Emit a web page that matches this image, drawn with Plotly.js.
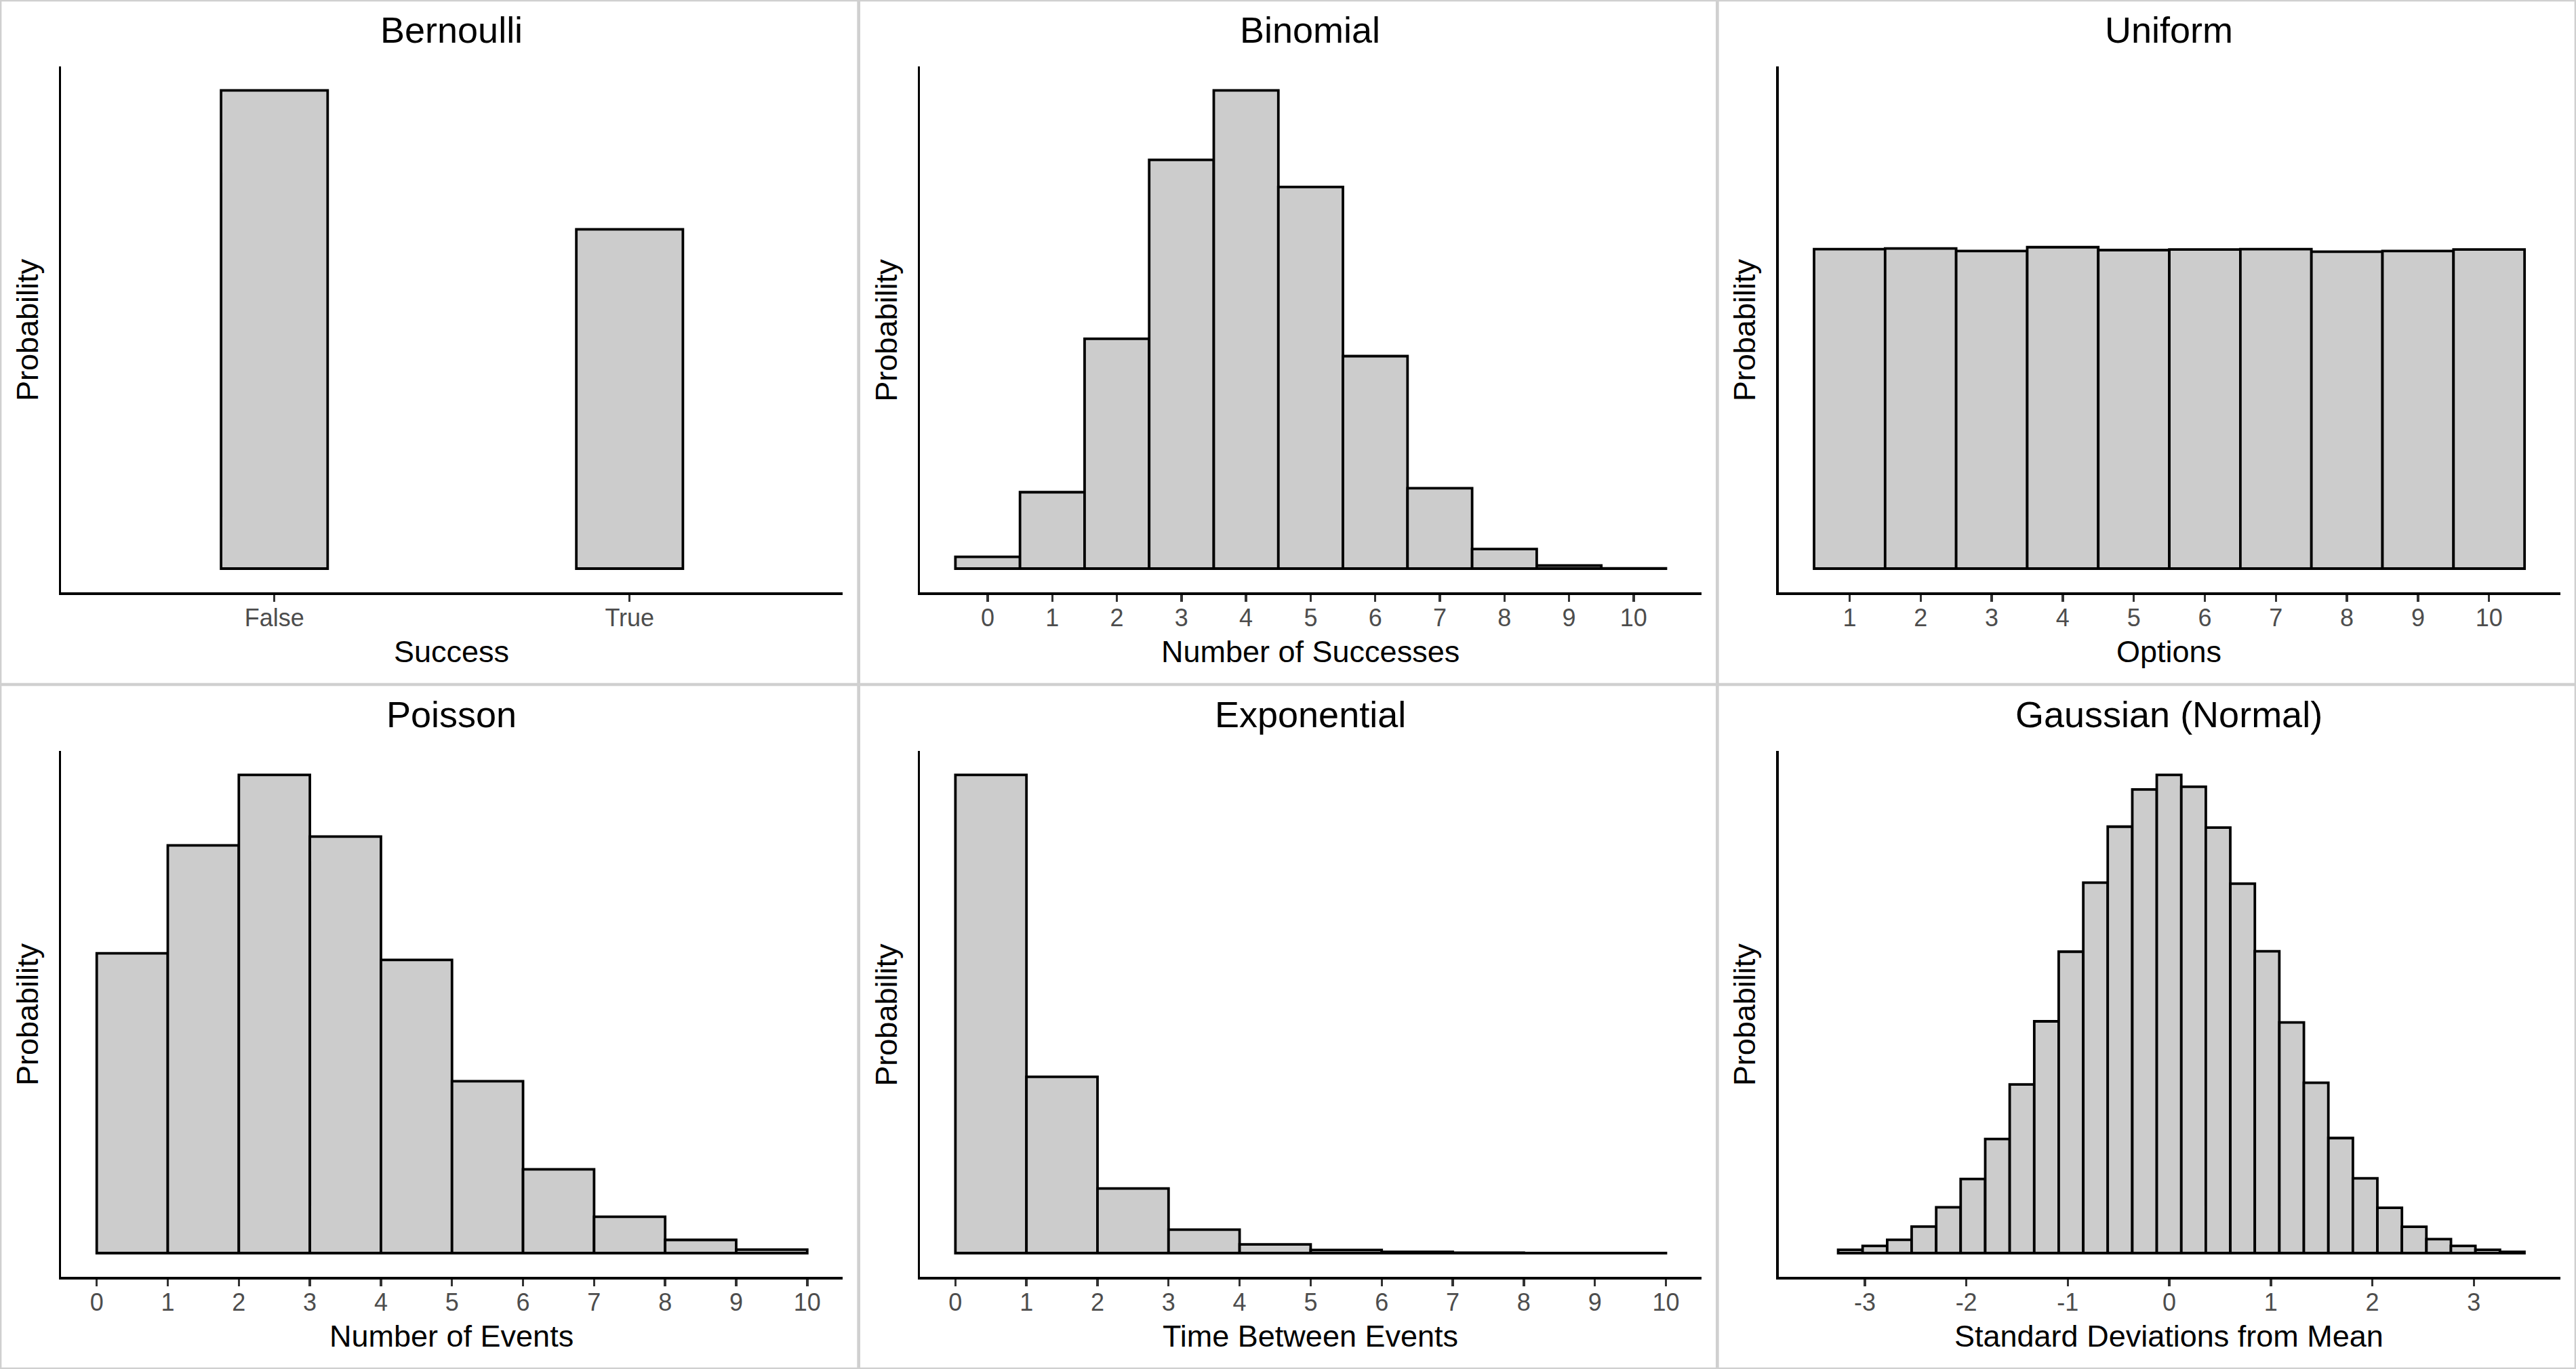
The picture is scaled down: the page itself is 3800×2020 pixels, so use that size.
<!DOCTYPE html>
<html>
<head>
<meta charset="utf-8">
<script src="https://cdn.plot.ly/plotly-3.0.1.min.js"></script>
<style>html,body{margin:0;padding:0;background:#ffffff;}</style>
</head>
<body>
<div id="chart" style="width:3800px;height:2020px;"></div>
<script>
// ---------------- data ----------------
const bernoulliCategories = ['False', 'True'];
const bernoulliProb = [0.585, 0.415];

const binomialSuccesses = [0, 1, 2, 3, 4, 5, 6, 7, 8, 9, 10];
const binomialProb = [0.0062, 0.0401, 0.1206, 0.2145, 0.2510, 0.2003, 0.1115, 0.0422, 0.0103, 0.0016, 0.0001];

const uniformOptions = [1, 2, 3, 4, 5, 6, 7, 8, 9, 10];
const uniformProb = [0.1002, 0.1004, 0.0996, 0.1008, 0.0999, 0.1001, 0.1002, 0.0994, 0.0996, 0.1001];

const poissonBinCenters = [0.5, 1.5, 2.5, 3.5, 4.5, 5.5, 6.5, 7.5, 8.5, 9.5];
const poissonProb = [0.136, 0.185, 0.217, 0.189, 0.133, 0.078, 0.038, 0.0165, 0.006, 0.0016];

const exponentialBinCenters = [0.5, 1.5, 2.5, 3.5, 4.5, 5.5, 6.5, 7.5, 8.5, 9.5];
const exponentialProb = [0.632, 0.233, 0.0855, 0.031, 0.0115, 0.0042, 0.0016, 0.0006, 0.0002, 0.0001];

const gaussianBinCenters = [-3.142, -2.901, -2.659, -2.418, -2.176, -1.935, -1.693, -1.452, -1.210, -0.969,
  -0.727, -0.486, -0.244, -0.003, 0.239, 0.480, 0.722, 0.963, 1.205, 1.446,
  1.688, 1.929, 2.171, 2.412, 2.654, 2.895, 3.137, 3.378];
const gaussianProb = [0.0028, 0.0060, 0.0110, 0.0220, 0.0380, 0.0615, 0.0947, 0.1400, 0.1924, 0.2502,
  0.3075, 0.3540, 0.3848, 0.3970, 0.3871, 0.3532, 0.3067, 0.2506, 0.1915, 0.1414,
  0.0955, 0.0621, 0.0376, 0.0219, 0.0116, 0.0060, 0.0028, 0.0010];

const intTicks = [0, 1, 2, 3, 4, 5, 6, 7, 8, 9, 10];
const gaussianTicks = [-3, -2, -1, 0, 1, 2, 3];

const panelTitles = ['Bernoulli', 'Binomial', 'Uniform', 'Poisson', 'Exponential', 'Gaussian (Normal)'];
const xTitles = ['Success', 'Number of Successes', 'Options', 'Number of Events', 'Time Between Events', 'Standard Deviations from Mean'];
const yTitle = 'Probability';

// ---------------- layout helpers ----------------
const W = 3800, H = 2020;
const PW = W / 3, PH = 1010;
const FONT = 'Liberation Sans, Arial, Helvetica, sans-serif';
const FILL = '#cccccc';
const BARLINE = 3.8;
const AXLINE = 3.4;

const panels = [
  {x: bernoulliCategories, y: bernoulliProb, width: 0.3, xtype: 'category', xrange: [-0.6, 1.6], ticks: null, ymax: Math.max(...bernoulliProb)},
  {x: binomialSuccesses, y: binomialProb, width: 1, xtype: 'linear', xrange: [-1.05, 11.05], ticks: intTicks, ymax: Math.max(...binomialProb)},
  {x: uniformOptions, y: uniformProb, width: 1, xtype: 'linear', xrange: [0, 11], ticks: uniformOptions, ymax: 0.15},
  {x: poissonBinCenters, y: poissonProb, width: 1, xtype: 'linear', xrange: [-0.5, 10.5], ticks: intTicks, ymax: Math.max(...poissonProb)},
  {x: exponentialBinCenters, y: exponentialProb, width: 1, xtype: 'linear', xrange: [-0.5, 10.5], ticks: intTicks, ymax: Math.max(...exponentialProb)},
  {x: gaussianBinCenters, y: gaussianProb, width: 0.2415, xtype: 'linear', xrange: [-3.85, 3.85], ticks: gaussianTicks, ymax: Math.max(...gaussianProb)}
];

const data = [];
const layout = {
  width: W, height: H,
  margin: {l: 0, r: 0, t: 0, b: 0, pad: 0},
  paper_bgcolor: '#ffffff', plot_bgcolor: '#ffffff',
  showlegend: false,
  bargap: 0,
  font: {family: FONT, color: '#000000'},
  annotations: [],
  shapes: []
};

panels.forEach((p, i) => {
  const col = i % 3, row = Math.floor(i / 3);
  const ox = col * PW, oy = row * PH;
  const xl = ox + 90.3, xr = ox + 1243.2;
  const yt = oy + 98, yb = oy + 874.3;
  const sfx = i === 0 ? '' : String(i + 1);

  data.push({
    type: 'bar',
    x: p.x, y: p.y, width: p.width,
    xaxis: 'x' + sfx, yaxis: 'y' + sfx,
    marker: {color: FILL, line: {color: '#000000', width: BARLINE}},
    hoverinfo: 'skip'
  });

  const xa = {
    domain: [xl / W, xr / W],
    anchor: 'y' + sfx,
    type: p.xtype,
    range: p.xrange,
    showgrid: false, zeroline: false,
    showline: true, linecolor: '#000000', linewidth: AXLINE,
    ticks: 'outside', ticklen: 10, tickwidth: 3.4, tickcolor: '#333333',
    ticklabelstandoff: -7,
    tickfont: {family: FONT, size: 36, color: '#4d4d4d'},
    fixedrange: true
  };
  if (p.ticks) { xa.tickmode = 'array'; xa.tickvals = p.ticks; xa.ticktext = p.ticks.map(String); }
  const ya = {
    domain: [1 - yb / H, 1 - yt / H],
    anchor: 'x' + sfx,
    range: [-0.05 * p.ymax, 1.05 * p.ymax],
    showgrid: false, zeroline: false,
    showline: true, linecolor: '#000000', linewidth: AXLINE,
    ticks: '', showticklabels: false,
    fixedrange: true
  };
  layout['xaxis' + sfx] = xa;
  layout['yaxis' + sfx] = ya;

  const cx = ox + 665.9;
  layout.annotations.push({
    text: panelTitles[i], xref: 'paper', yref: 'paper',
    x: cx / W, y: 1 - (oy + 44) / H, xanchor: 'center', yanchor: 'middle',
    showarrow: false, font: {family: FONT, size: 54, color: '#000000'}
  });
  layout.annotations.push({
    text: xTitles[i], xref: 'paper', yref: 'paper',
    x: cx / W, y: 1 - (oy + 961) / H, xanchor: 'center', yanchor: 'middle',
    showarrow: false, font: {family: FONT, size: 45, color: '#000000'}
  });
  layout.annotations.push({
    text: yTitle, xref: 'paper', yref: 'paper', textangle: -90,
    x: (ox + 40) / W, y: 1 - (oy + 487) / H, xanchor: 'center', yanchor: 'middle',
    showarrow: false, font: {family: FONT, size: 45, color: '#000000'}
  });
});

// panel borders (light gray)
const BORDER = '#d0d0d0';
layout.shapes.push({type: 'rect', xref: 'paper', yref: 'paper', x0: 0, x1: 1, y0: 0, y1: 1,
  line: {color: BORDER, width: 4.7}, fillcolor: 'rgba(0,0,0,0)', layer: 'above'});
[1, 2].forEach(c => layout.shapes.push({type: 'line', xref: 'paper', yref: 'paper',
  x0: c / 3, x1: c / 3, y0: 0, y1: 1, line: {color: BORDER, width: 4.7}, layer: 'above'}));
layout.shapes.push({type: 'line', xref: 'paper', yref: 'paper', x0: 0, x1: 1, y0: 0.5, y1: 0.5,
  line: {color: BORDER, width: 4.7}, layer: 'above'});

Plotly.newPlot('chart', data, layout, {staticPlot: true, displayModeBar: false});
</script>
</body>
</html>
